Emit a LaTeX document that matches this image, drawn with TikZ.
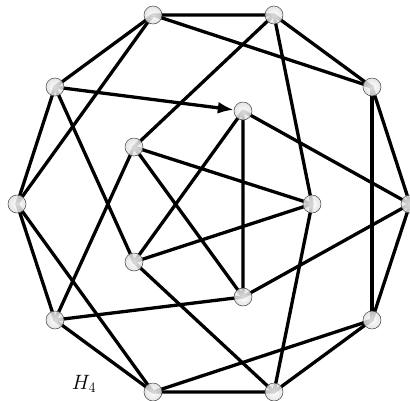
\documentclass[tikz,border=0pt]{standalone}
\usetikzlibrary{arrows.meta,backgrounds}
\tikzset{
  vtx/.style={circle,minimum size=18pt,inner sep=0pt,draw=gray!55!black,line width=0.5pt,
    shading=radial,inner color=white,outer color=gray!25,fill opacity=0.85},
  edge/.style={line width=3.3pt,line cap=round,line join=round},
  arr/.style={line width=3.3pt,-{Latex[length=16pt,width=12pt]}}
}
\begin{document}
\begin{tikzpicture}[x=1pt,y=-1pt]
\useasboundingbox (0,0) rectangle (410,400);
% outer ring
\node[vtx] (t1) at (153,15) {};
\node[vtx] (t2) at (274,15) {};
\node[vtx] (r1) at (372,87) {};
\node[vtx] (r2) at (410,204) {};
\node[vtx] (r3) at (372,320) {};
\node[vtx] (b2) at (274,392) {};
\node[vtx] (b1) at (153,392) {};
\node[vtx] (l3) at (55,320) {};
\node[vtx] (l2) at (17,204) {};
\node[vtx] (l1) at (55,87) {};
% inner
\node[vtx] (a) at (243,111) {};
\node[vtx] (b) at (134,147) {};
\node[vtx] (c) at (312,204) {};
\node[vtx] (d) at (134,262) {};
\node[vtx] (e) at (243,297) {};
\node (lab) at (84,384) {\fontsize{22}{26}\selectfont $H_4$};
\begin{pgfonlayer}{background}
\draw[edge] (t1.center) -- (t2.center) -- (r1.center) -- (r2.center) -- (r3.center) -- (b2.center)
  -- (b1.center) -- (l3.center) -- (l2.center) -- (l1.center) -- (t1.center);
\draw[edge] (c.center) -- (b.center) -- (e.center) -- (a.center) -- (d.center) -- (c.center);
\draw[edge] (t1.center) -- (r1.center);
\draw[edge] (t1.center) -- (l2.center);
\draw[edge] (t2.center) -- (b.center);
\draw[edge] (t2.center) -- (c.center);
\draw[edge] (r1.center) -- (r3.center);
\draw[edge] (a.center) -- (r2.center);
\draw[edge] (e.center) -- (r2.center);
\draw[edge] (b.center) -- (l3.center);
\draw[edge] (c.center) -- (b2.center);
\draw[edge] (d.center) -- (l1.center);
\draw[edge] (d.center) -- (b2.center);
\draw[edge] (e.center) -- (l3.center);
\draw[edge] (r3.center) -- (b1.center);
\draw[edge] (l2.center) -- (b1.center);
\draw[arr] (l1.center) -- (a);
\end{pgfonlayer}
\end{tikzpicture}
\end{document}
